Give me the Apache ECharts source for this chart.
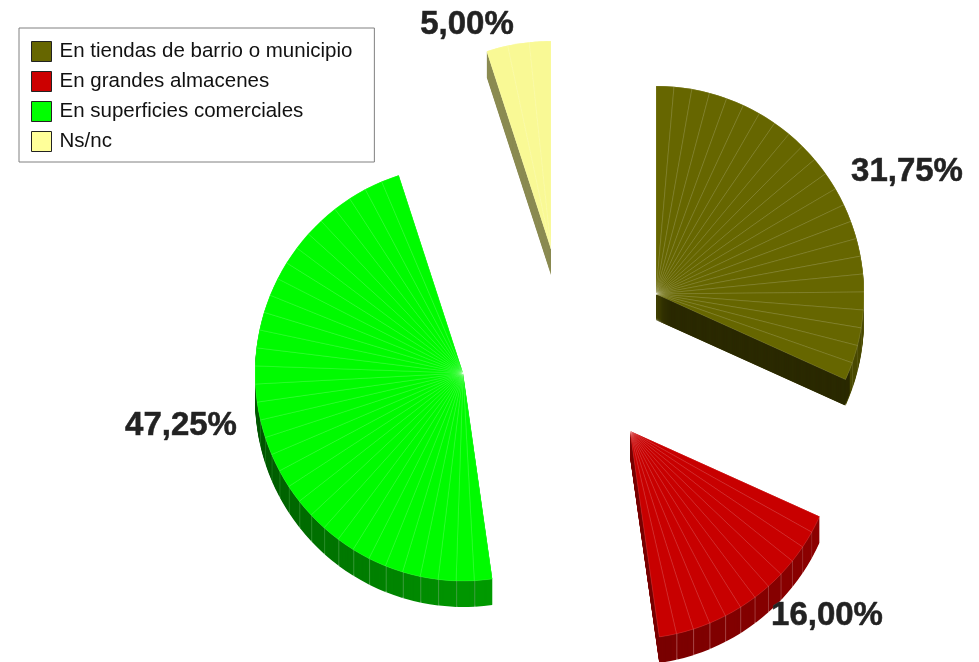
<!DOCTYPE html>
<html><head><meta charset="utf-8">
<style>html,body{margin:0;padding:0;background:#fff}#c{width:979px;height:662px}</style>
<script src="https://cdn.jsdelivr.net/npm/echarts@6/dist/echarts.min.js"></script>
</head><body><div id="c"></div>
<script>
const categories = ['En tiendas de barrio o municipio','En grandes almacenes','En superficies comerciales','Ns/nc'];
const shares = [31.75, 16.00, 47.25, 5.00];
const shareLabels = ['31,75%','16,00%','47,25%','5,00%'];
const facetCounts = [23, 12, 34, 3];
const legendColors = ['#666600','#cc0000','#00ff00','#ffff99'];
const topColors = ['#666600','#c80000','#00fb00','#f9f995'];
const wallStops = [['#4e4e00','#4a4a00'],['#8c0000','#7c0000'],['#009a00','#005500','#008000'],['#8b8b52','#8b8b52']];
const wallLines = ['#77773a','#a84848','#3d9d3d','#8b8b52'];
const edgeWalls = ['#2b2a00','#7a0000',null,null];
const centers = [[656,294],[630,431],[463,373],[551,249]];
const labelCenters = [[907,172],[827,616],[181,426],[467,25]];
const RADIUS = 208, DEPTH = 26, GAP = 0.08, EDGE = 1.0;

const hex = c => [1,3,5].map(i => parseInt(c.substr(i,2),16));
function stopColor(stops,t){
  const p = t*(stops.length-1), i = Math.min(Math.floor(p),stops.length-2), f = p-i;
  const a = hex(stops[i]), b = hex(stops[i+1]);
  return 'rgb('+a.map((v,k)=>Math.round(v+(b[k]-v)*f)).join(',')+')';
}
const blank = v => ({value:v, name:'', itemStyle:{color:'transparent',borderWidth:0}, label:{show:false}});
function wrap(idx, items){
  const before = shares.slice(0,idx).reduce((a,b)=>a+b,0);
  const after = 100-before-shares[idx];
  const out = [];
  if (before>0) out.push(blank(before));
  out.push(...items);
  if (after>0.0001) out.push(blank(after));
  return out;
}
function underlayData(idx){
  return wrap(idx,[{value:shares[idx],name:'',itemStyle:{color:topColors[idx],borderWidth:0},label:{show:false}}]);
}
function topData(idx){
  const n = facetCounts[idx], items = [];
  for (let k=0;k<n;k++){
    items.push({
      value: shares[idx]/n,
      name: k===0 ? categories[idx] : '',
      itemStyle:{color:topColors[idx],borderColor:'rgba(255,255,255,0.24)',borderWidth:0.5},
      label: k===0 ? {show:true,formatter:shareLabels[idx],position:'outside',
        fontFamily:'"Liberation Sans",Arial,sans-serif',fontWeight:'bold',fontSize:33,color:'#222',
        textBorderColor:'#444',textBorderWidth:0.6} : {show:false},
      labelLine:{show:false}
    });
  }
  return wrap(idx,items);
}
function wallData(idx){
  const n = facetCounts[idx], items = [];
  const w = shares[idx]/n;
  for (let k=0;k<n;k++){
    items.push({value:w-GAP,name:'',itemStyle:{color:stopColor(wallStops[idx],k/(n-1)),borderWidth:0},label:{show:false}});
    items.push({value:GAP,name:'',itemStyle:{color:wallLines[idx],borderWidth:0},label:{show:false}});
  }
  return wrap(idx,items);
}
function edgeData(idx){
  return wrap(idx,[
    {value:shares[idx]-EDGE,name:'',itemStyle:{color:'transparent',borderWidth:0},label:{show:false}},
    {value:EDGE,name:'',itemStyle:{color:edgeWalls[idx],borderWidth:0},label:{show:false}}
  ]);
}
const base = {type:'pie',radius:[0,RADIUS],startAngle:90,clockwise:true,silent:true,animation:false,
  avoidLabelOverlap:false,emphasis:{disabled:true},label:{show:false},labelLine:{show:false}};
const series = [];
[3,0,2,1].forEach(idx=>{
  const [cx,cy] = centers[idx];
  for (let d=DEPTH;d>=1;d--){
    series.push(Object.assign({},base,{center:[cx,cy+d],data:wallData(idx)}));
  }
  if (edgeWalls[idx]){
    for (let d=DEPTH;d>=0.5;d-=0.5){
      series.push(Object.assign({},base,{center:[cx,cy+d],radius:[0,RADIUS-1],data:edgeData(idx)}));
    }
  }
  series.push(Object.assign({},base,{center:[cx,cy],data:underlayData(idx)}));
  series.push(Object.assign({},base,{center:[cx,cy],data:topData(idx),
    labelLayout:{x:labelCenters[idx][0],y:labelCenters[idx][1],align:'center',verticalAlign:'middle',hideOverlap:false,moveOverlap:false}
  }));
});
const chart = echarts.init(document.getElementById('c'),null,{renderer:'canvas'});
chart.setOption({
  backgroundColor:'#fff',
  animation:false,
  legend:{
    orient:'vertical',left:19,top:28,
    padding:[13,22,10,12],
    itemWidth:20,itemHeight:20,itemGap:9,
    selectedMode:false,
    backgroundColor:'#fff',borderColor:'#808080',borderWidth:1,borderRadius:0,
    icon:'rect',
    textStyle:{fontFamily:'"Liberation Sans",Arial,sans-serif',fontSize:20.5,lineHeight:20,height:20,color:'#111',padding:[0,0,0,3]},
    data:categories.map((c,i)=>({name:c,icon:'rect',itemStyle:{color:legendColors[i],borderColor:'#222',borderWidth:1,opacity:1}}))
  },
  series
});
</script></body></html>
